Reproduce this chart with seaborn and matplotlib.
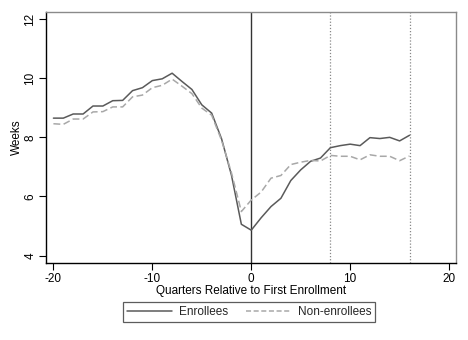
import matplotlib
matplotlib.use("Agg")
import matplotlib.pyplot as plt
import seaborn as sns
import pandas as pd
from matplotlib.lines import Line2D

quarters = list(range(-20, 17))
enrollees = [8.65, 8.65, 8.79, 8.79, 9.06, 9.06, 9.24, 9.25, 9.58, 9.68, 9.92, 9.98,
             10.17, 9.89, 9.62, 9.10, 8.82, 7.95, 6.72, 5.06, 4.86,
             5.28, 5.66, 5.94, 6.54, 6.90, 7.19, 7.30, 7.65, 7.72, 7.77, 7.72, 7.99,
             7.96, 8.00, 7.88, 8.07]
non_enrollees = [8.46, 8.44, 8.62, 8.62, 8.86, 8.87, 9.03, 9.03, 9.37, 9.43, 9.68, 9.76,
                 9.97, 9.73, 9.48, 8.99, 8.75, 7.90, 6.80, 5.49, 5.88,
                 6.15, 6.62, 6.71, 7.08, 7.16, 7.22, 7.20, 7.39, 7.36, 7.36, 7.24, 7.41,
                 7.36, 7.36, 7.21, 7.37]
series_names = ["Enrollees", "Non-enrollees"]
x_ticks = [-20, -10, 0, 10, 20]
y_ticks = [4, 6, 8, 10, 12]
ref_lines = [8, 16]

sns.set_theme(style="white")
plt.rcParams['font.family'] = ['Liberation Sans', 'DejaVu Sans']

df = pd.DataFrame({
    "quarter": quarters * 2,
    "weeks": enrollees + non_enrollees,
    "group": [series_names[0]] * len(quarters) + [series_names[1]] * len(quarters),
})

fig = plt.figure(figsize=(4.68, 3.40), dpi=100)
ax = fig.add_axes([46 / 468, 1 - 263.3 / 340, (456 - 46) / 468, (263.3 - 12) / 340])

ax.axvline(0, color="#333333", lw=1.0, zorder=1)
for r in ref_lines:
    ax.axvline(r, color="#888888", lw=0.9, ls=(0, (1, 1.5)), zorder=1)

sns.lineplot(data=df, x="quarter", y="weeks", hue="group", style="group",
             palette={series_names[0]: "#5a5a5a", series_names[1]: "#a8a8a8"},
             dashes={series_names[0]: "", series_names[1]: (4.5, 2.2)},
             linewidth=1.1, ax=ax, legend=False, zorder=3)

ax.set_xlim(-20.75, 20.7)
ax.set_ylim(3.74, 12.24)
ax.set_xticks(x_ticks)
ax.set_yticks(y_ticks)
ax.set_xticklabels([str(t) for t in x_ticks], fontsize=8.5)
ax.set_yticklabels([str(t) for t in y_ticks], fontsize=8.5, rotation=90, va="center")
ax.tick_params(axis="both", direction="out", length=5, width=0.8, color="black",
               labelcolor="black", pad=2, bottom=True, left=True)

ax.set_xlabel("Quarters Relative to First Enrollment", fontsize=8.5, labelpad=0, color="black")
ax.set_ylabel("Weeks", fontsize=8.5, labelpad=1, color="black")

for s in ["left", "bottom"]:
    ax.spines[s].set_color("black")
    ax.spines[s].set_linewidth(1.0)
for s in ["top", "right"]:
    ax.spines[s].set_color("#8a8a8a")
    ax.spines[s].set_linewidth(1.0)

handles = [Line2D([], [], color="#5a5a5a", lw=1.1),
           Line2D([], [], color="#a8a8a8", lw=1.1, ls=(0, (3.3, 1.7)))]
leg = fig.legend(handles, series_names, loc="center", bbox_to_anchor=(249 / 468, 1 - 312.3 / 340),
                 ncol=2, fontsize=8.5, frameon=True, fancybox=False, handlelength=3.8,
                 columnspacing=1.5, handletextpad=0.6, borderpad=0.35, borderaxespad=0)
leg.get_frame().set_edgecolor("#333333")
leg.get_frame().set_linewidth(0.9)

fig.savefig("out.png", dpi=100)
